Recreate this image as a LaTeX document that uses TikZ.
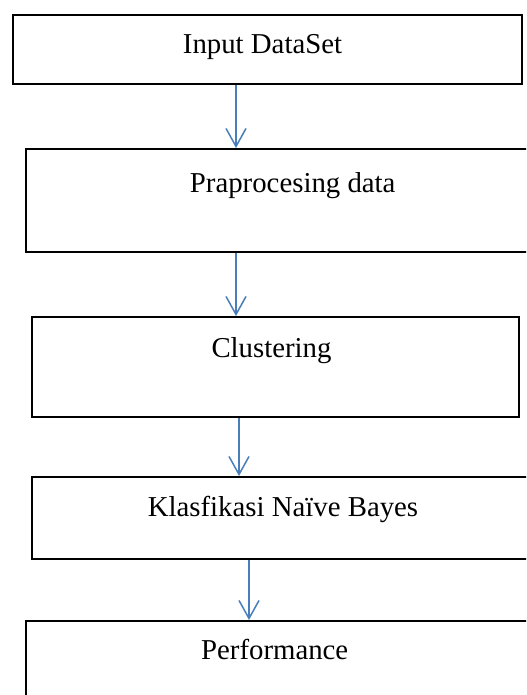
\documentclass[tikz,border=0pt]{standalone}
\usepackage{fontspec}
\setmainfont{Liberation Serif}
\usetikzlibrary{arrows.meta,positioning}
\definecolor{flowblue}{HTML}{4A7EBB}

\begin{document}
\begin{tikzpicture}[x=0.5pt,y=-0.5pt,
        box/.style={draw=black, line width=1pt, inner sep=0pt, rectangle},
        lbl/.style={anchor=base, inner sep=0pt, font=\fontsize{14.4pt}{17pt}\selectfont},
        flow/.style={draw=flowblue, line width=0.75pt, -{Straight Barb[length=9pt,width=10pt,line width=0.75pt]}}]
        \useasboundingbox (0,0) rectangle (526,695);
        \clip (0,0) rectangle (526,695);
        % boxes
        \node[box, minimum width=254.5pt, minimum height=34.5pt] (input) at (267.5,49.5) {};
        \node[box, minimum width=270.5pt, minimum height=51.5pt] (prep)  at (296.5,200.5) {};
        \node[box, minimum width=243.5pt, minimum height=50pt]   (clust) at (275.5,367) {};
        \node[box, minimum width=255pt,   minimum height=41pt]   (nb)    at (287,518) {};
        \node[box, minimum width=252.5pt, minimum height=57pt]   (perf)  at (278.5,678) {};
        % texts
        \node[lbl] (t_input) at (262.5,54)  {Input DataSet};
        \node[lbl] (t_prep)  at (292.7,192) {Praprocesing data};
        \node[lbl] (t_clust) at (271.5,357) {Clustering};
        \node[lbl] (t_nb)    at (283,516)   {Klasfikasi Naïve Bayes};
        \node[lbl] (t_perf)  at (274.7,659) {Performance};
        % arrow columns
        \coordinate (c1) at (236,0);
        \coordinate (c2) at (236,0);
        \coordinate (c3) at (239,0);
        \coordinate (c4) at (249,0);
        \draw[flow] (c1 |- input.south) -- (c1 |- prep.north);
        \draw[flow] (c2 |- prep.south)  -- (c2 |- clust.north);
        \draw[flow] (c3 |- clust.south) -- (c3 |- nb.north);
        \draw[flow] (c4 |- nb.south)    -- (c4 |- perf.north);
\end{tikzpicture}
\end{document}
